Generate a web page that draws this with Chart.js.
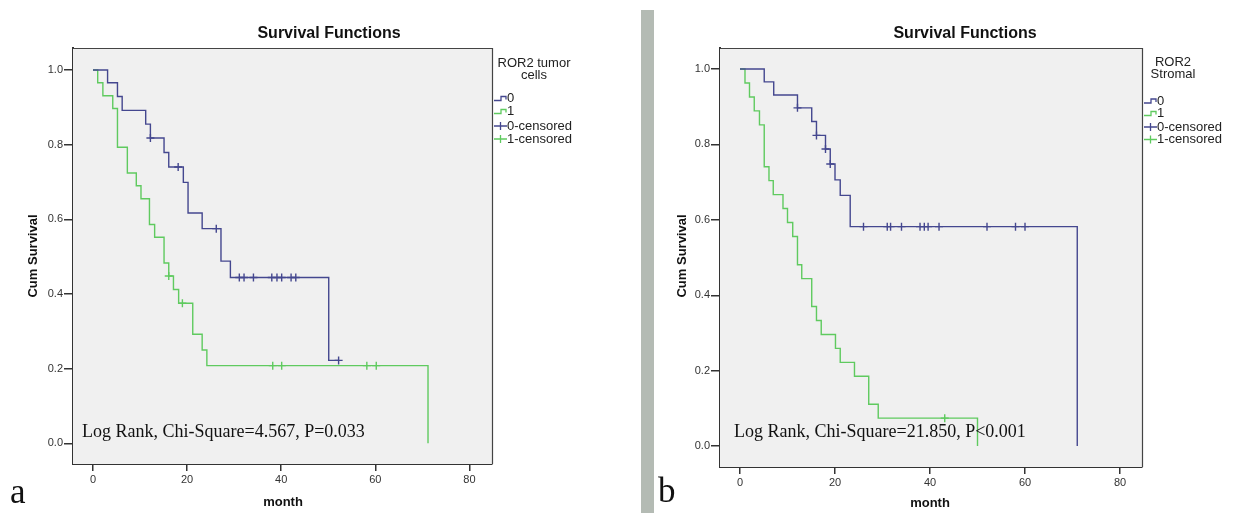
<!DOCTYPE html>
<html>
<head>
<meta charset="utf-8">
<script src="https://cdn.jsdelivr.net/npm/chart.js@4.4.0/dist/chart.umd.min.js"></script>
<style>
  html, body { margin: 0; padding: 0; background: #ffffff; }
  body { width: 1237px; height: 513px; position: relative; overflow: hidden; }
  canvas { position: absolute; top: 0; }
  #bar { position: absolute; left: 641px; top: 10px; width: 13px; height: 503px; background: #b4bbb4; }
</style>
</head>
<body>
<canvas id="chartA" width="640" height="513" style="left:0px;width:640px;height:513px"></canvas>
<div id="bar"></div>
<canvas id="chartB" width="582" height="513" style="left:655px;width:582px;height:513px"></canvas>
<script>
// ---------- tick labels ----------
const xTickValues = [0, 20, 40, 60, 80];
const yTickValues = [0, 0.2, 0.4, 0.6, 0.8, 1.0];

// ---------- panel a : ROR2 tumor cells ----------
const aTime0 = [0, 3.1, 5.2, 6.2, 11.2, 12.2, 15.1, 16.1, 19.2, 20.2, 23.2, 27.2, 29.2, 50.1, 52.2];
const aSurv0 = [1.0, 0.966, 0.929, 0.892, 0.855, 0.818, 0.779, 0.740, 0.699, 0.617, 0.575, 0.488, 0.444, 0.222, 0.222];
const aCensTime0 = [12.2, 18.1, 26.2, 31.1, 32.1, 34.1, 38.0, 39.1, 40.1, 42.1, 43.1, 52.2];
const aCensSurv0 = [0.818, 0.740, 0.575, 0.444, 0.444, 0.444, 0.444, 0.444, 0.444, 0.444, 0.444, 0.222];

const aTime1 = [0, 1.0, 2.1, 4.2, 5.2, 7.3, 9.2, 10.2, 12.0, 13.1, 15.1, 16.1, 17.1, 18.2, 21.2, 23.2, 24.2, 71.2];
const aSurv1 = [1.0, 0.966, 0.931, 0.897, 0.793, 0.724, 0.690, 0.655, 0.586, 0.552, 0.483, 0.448, 0.412, 0.375, 0.292, 0.250, 0.208, 0];
const aCensTime1 = [16.1, 19.0, 38.2, 40.1, 58.2, 60.2];
const aCensSurv1 = [0.448, 0.375, 0.208, 0.208, 0.208, 0.208];

// ---------- panel b : ROR2 Stromal ----------
const bTime0 = [0, 5.1, 7.1, 12.1, 15.1, 16.1, 18.0, 19.0, 20.0, 21.1, 23.2, 71.0];
const bSurv0 = [1.0, 0.966, 0.931, 0.897, 0.861, 0.824, 0.788, 0.748, 0.706, 0.665, 0.582, 0];
const bCensTime0 = [12.1, 16.1, 18.0, 19.0, 26.0, 31.0, 31.7, 34.0, 37.9, 38.8, 39.6, 41.9, 52.0, 58.0, 60.0];
const bCensSurv0 = [0.897, 0.824, 0.788, 0.748, 0.582, 0.582, 0.582, 0.582, 0.582, 0.582, 0.582, 0.582, 0.582, 0.582, 0.582];

const bTime1 = [0, 1.05, 2.0, 3.0, 4.1, 5.1, 6.1, 7.0, 9.05, 10.0, 11.1, 12.1, 13.0, 15.1, 16.1, 17.1, 20.1, 21.1, 24.1, 27.1, 29.1, 50.0];
const bSurv1 = [1.0, 0.963, 0.926, 0.889, 0.852, 0.741, 0.704, 0.667, 0.630, 0.593, 0.556, 0.481, 0.444, 0.370, 0.333, 0.296, 0.259, 0.222, 0.185, 0.111, 0.074, 0];
const bCensTime1 = [43.1];
const bCensSurv1 = [0.074];

const legendLabels = ['0', '1', '0-censored', '1-censored'];

// ---------- style ----------
const BLUE = '#44478f';
const GREEN = '#5fca5f';
const SANS = '"Liberation Sans", Arial, sans-serif';
const SERIF = '"Liberation Serif", "Times New Roman", serif';

function pts(t, s) { return t.map((v, i) => ({ x: v, y: s[i] })); }

function kmDatasets(t0, s0, ct0, cs0, t1, s1, ct1, cs1) {
  return [
    { data: pts(t0, s0), showLine: true, stepped: true, borderColor: BLUE, borderWidth: 1.4, pointRadius: 0, fill: false },
    { data: pts(t1, s1), showLine: true, stepped: true, borderColor: GREEN, borderWidth: 1.4, pointRadius: 0, fill: false },
    { data: pts(ct0, cs0), showLine: false, pointStyle: 'cross', pointRadius: 4, borderColor: BLUE, pointBorderWidth: 1.4, backgroundColor: BLUE },
    { data: pts(ct1, cs1), showLine: false, pointStyle: 'cross', pointRadius: 4, borderColor: GREEN, pointBorderWidth: 1.4, backgroundColor: GREEN }
  ];
}

const frameBg = {
  id: 'frameBg',
  beforeDatasetsDraw(chart) {
    const { ctx, chartArea: a } = chart;
    ctx.save();
    ctx.fillStyle = '#f0f0f0';
    ctx.fillRect(a.left, a.top, a.right - a.left, a.bottom - a.top);
    ctx.strokeStyle = '#444';
    ctx.lineWidth = 1.2;
    ctx.beginPath();
    ctx.moveTo(a.left, a.top + 0.5);
    ctx.lineTo(a.right + 0.5, a.top + 0.5);
    ctx.lineTo(a.right + 0.5, a.bottom);
    ctx.stroke();
    ctx.restore();
  }
};

const texts = {
  id: 'texts',
  afterDraw(chart, args, o) {
    const { ctx, chartArea: a } = chart;
    ctx.save();
    ctx.fillStyle = '#111';
    // title
    ctx.font = 'bold 16px ' + SANS;
    ctx.textAlign = 'center';
    ctx.textBaseline = 'middle';
    ctx.fillText(o.title, o.titleX, o.titleY);
    // axis titles
    ctx.font = 'bold 13px ' + SANS;
    ctx.fillText('month', o.xTitleX, o.xTitleY);
    ctx.save();
    ctx.translate(o.yTitleX, o.yTitleY);
    ctx.rotate(-Math.PI / 2);
    ctx.fillText('Cum Survival', 0, 0);
    ctx.restore();
    // legend title
    ctx.font = '13px ' + SANS;
    ctx.fillStyle = '#222';
    o.legendTitle.forEach((l, i) => ctx.fillText(l, o.legendTitleX, o.legendTitleY[i]));
    // legend items
    const x0 = a.right + 2;
    ctx.textAlign = 'left';
    legendLabels.forEach((lab, i) => {
      const y = o.legendY[i];
      const col = (i % 2 === 0) ? BLUE : GREEN;
      ctx.strokeStyle = col;
      ctx.lineWidth = 1.3;
      ctx.beginPath();
      if (i < 2) {
        ctx.moveTo(x0, y + 2); ctx.lineTo(x0 + 7, y + 2); ctx.lineTo(x0 + 7, y - 2); ctx.lineTo(x0 + 12, y - 2); ctx.lineTo(x0 + 12, y + 1);
      } else {
        ctx.moveTo(x0, y); ctx.lineTo(x0 + 13, y);
        ctx.moveTo(x0 + 6.5, y - 4); ctx.lineTo(x0 + 6.5, y + 4);
      }
      ctx.stroke();
      ctx.fillStyle = '#222';
      ctx.fillText(lab, x0 + 13, y);
    });
    // log rank note
    ctx.font = '18px ' + SERIF;
    ctx.fillStyle = '#111';
    ctx.textBaseline = 'alphabetic';
    ctx.fillText(o.note, o.noteX, o.noteY);
    // panel letter
    ctx.font = '35px ' + SERIF;
    ctx.fillText(o.letter, o.letterX, o.letterY);
    ctx.restore();
  }
};

function makeChart(id, datasets, xr, yr, pad, yW, xH, textOpts) {
  return new Chart(document.getElementById(id), {
    type: 'scatter',
    data: { datasets },
    plugins: [frameBg, texts],
    options: {
      responsive: false,
      animation: false,
      events: [],
      layout: { padding: pad },
      plugins: { legend: { display: false }, tooltip: { enabled: false }, texts: textOpts },
      scales: {
        x: {
          type: 'linear', min: xr[0], max: xr[1],
          afterBuildTicks: s => { s.ticks = xTickValues.map(v => ({ value: v })); },
          afterFit: s => { s.height = xH; },
          grid: { drawOnChartArea: false, drawTicks: true, tickLength: 7, color: '#333', lineWidth: 1.5 },
          border: { display: true, color: '#333', width: 2 },
          ticks: { padding: 2, color: '#333', font: { family: SANS, size: 11 }, callback: v => String(v), maxRotation: 0 }
        },
        y: {
          type: 'linear', min: yr[0], max: yr[1],
          afterBuildTicks: s => { s.ticks = yTickValues.map(v => ({ value: v })); },
          afterFit: s => { s.width = yW; },
          grid: { drawOnChartArea: false, drawTicks: true, tickLength: 9, color: '#333', lineWidth: 1.5 },
          border: { display: true, color: '#333', width: 2 },
          ticks: { padding: 1, color: '#333', font: { family: SANS, size: 11 }, callback: v => v.toFixed(1) }
        }
      }
    }
  });
}

makeChart('chartA',
  kmDatasets(aTime0, aSurv0, aCensTime0, aCensSurv0, aTime1, aSurv1, aCensTime1, aCensSurv1),
  [-4.25, 84.8], [-0.0555, 1.059],
  { left: 0, top: 48, right: 148, bottom: 0 }, 73, 49,
  {
    title: 'Survival Functions', titleX: 329, titleY: 34,
    xTitleX: 283, xTitleY: 502, yTitleX: 33, yTitleY: 256,
    legendTitle: ['ROR2 tumor', 'cells'], legendTitleX: 534, legendTitleY: [63, 75],
    legendY: [98.5, 111.5, 126, 139],
    note: 'Log Rank, Chi-Square=4.567, P=0.033', noteX: 82, noteY: 436.5,
    letter: 'a', letterX: 10, letterY: 503
  });

makeChart('chartB',
  kmDatasets(bTime0, bSurv0, bCensTime0, bCensSurv0, bTime1, bSurv1, bCensTime1, bCensSurv1),
  [-4.21, 84.63], [-0.0555, 1.0558],
  { left: 0, top: 48, right: 95, bottom: 0 }, 65, 46,
  {
    title: 'Survival Functions', titleX: 310, titleY: 34,
    xTitleX: 275, xTitleY: 503, yTitleX: 27, yTitleY: 256,
    legendTitle: ['ROR2', 'Stromal'], legendTitleX: 518, legendTitleY: [62, 74],
    legendY: [101, 113.5, 127, 139.5],
    note: 'Log Rank, Chi-Square=21.850, P<0.001', noteX: 79, noteY: 436.5,
    letter: 'b', letterX: 3, letterY: 502
  });
</script>
</body>
</html>
